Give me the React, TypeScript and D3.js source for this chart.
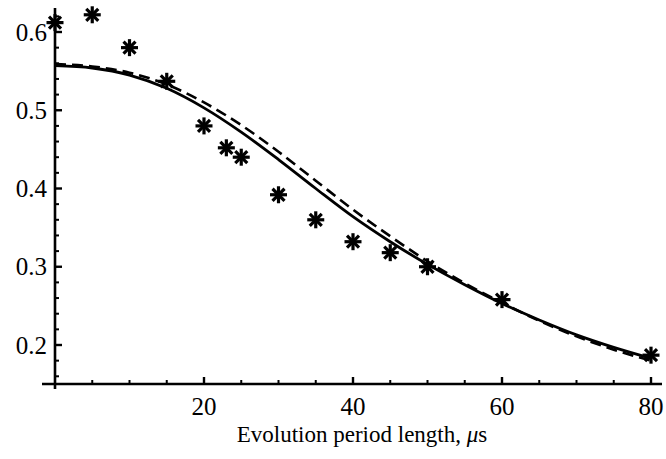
import React from 'react';
import * as d3 from 'd3';

// measured points
const measT = [0, 5, 10, 15, 20, 23, 25, 30, 35, 40, 45, 50, 60, 80];
const measV = [0.612, 0.622, 0.58, 0.537, 0.48, 0.452, 0.44, 0.392, 0.36, 0.332, 0.318, 0.3, 0.258, 0.187];

// model curves
const fitT = [0, 5, 10, 15, 20, 25, 30, 35, 40, 45, 50, 55, 60, 65, 70, 75, 80];
const solidV = [0.557, 0.554, 0.545, 0.528, 0.503, 0.472, 0.437, 0.4, 0.364, 0.332, 0.303, 0.277, 0.253, 0.232, 0.213, 0.197, 0.183];
const dashedV = [0.559, 0.556, 0.548, 0.533, 0.51, 0.481, 0.447, 0.41, 0.373, 0.339, 0.307, 0.279, 0.254, 0.231, 0.211, 0.194, 0.18];

const xTicks = [20, 40, 60, 80];
const yTicks = [0.2, 0.3, 0.4, 0.5, 0.6];

const W = 666;
const H = 459;
const FONT = 'Liberation Serif, DejaVu Serif, serif';

export default function App() {
  const x = d3.scaleLinear().domain([0, 80]).range([55, 651]);
  const y = d3.scaleLinear().domain([0.2, 0.6]).range([345, 32]);

  const axisY = 384;
  const axisX = 55;

  const line = d3.line<number>()
    .x((_, i) => x(fitT[i]))
    .y(d => y(d))
    .curve(d3.curveMonotoneX);

  const xMinor = d3.range(5, 81, 5).filter(t => t % 20 !== 0);
  const yMinor = d3.range(0.16, 0.63, 0.02)
    .map(v => Math.round(v * 100) / 100)
    .filter(v => Math.round(v * 100) % 10 !== 0);

  const star = (cx: number, cy: number, k: number) => {
    const r = 8.5;
    return (
      <g key={k} transform={`translate(${cx},${cy})`} stroke="#000" strokeWidth={3.2}>
        {[0, 45, 90, 135].map(a => {
          const rad = (a * Math.PI) / 180;
          return (
            <line key={a} x1={-r * Math.cos(rad)} y1={-r * Math.sin(rad)} x2={r * Math.cos(rad)} y2={r * Math.sin(rad)} />
          );
        })}
      </g>
    );
  };

  return (
    <div style={{ position: 'absolute', left: 0, top: 0, width: W, height: H, background: '#fff' }}>
      <svg width={W} height={H} fontFamily={FONT}>
        {/* axes */}
        <line x1={42} x2={662} y1={axisY} y2={axisY} stroke="#000" strokeWidth={2.6} />
        <line x1={axisX} x2={axisX} y1={8} y2={389} stroke="#000" strokeWidth={2.6} />

        {xTicks.map(t => (
          <g key={t}>
            <line x1={x(t)} x2={x(t)} y1={axisY} y2={axisY - 7} stroke="#000" strokeWidth={2.4} />
            <text x={x(t)} y={415} textAnchor="middle" fontSize={25}>{t}</text>
          </g>
        ))}
        {xMinor.map(t => (
          <line key={t} x1={x(t)} x2={x(t)} y1={axisY} y2={axisY - 4} stroke="#000" strokeWidth={2} />
        ))}

        {yTicks.map(v => (
          <g key={v}>
            <line x1={axisX} x2={axisX + 7} y1={y(v)} y2={y(v)} stroke="#000" strokeWidth={2.4} />
            <text x={47} y={y(v) + 8.5} textAnchor="end" fontSize={25}>{v.toFixed(1)}</text>
          </g>
        ))}
        {yMinor.map(v => (
          <line key={v} x1={axisX} x2={axisX + 4} y1={y(v)} y2={y(v)} stroke="#000" strokeWidth={2} />
        ))}

        <text x={362} y={442} textAnchor="middle" fontSize={23}>
          Evolution period length, <tspan fontStyle="italic">μ</tspan>s
        </text>

        {/* curves */}
        <path d={line(dashedV) || ''} fill="none" stroke="#000" strokeWidth={2.6} strokeDasharray="11,6" />
        <path d={line(solidV) || ''} fill="none" stroke="#000" strokeWidth={2.8} />

        {/* data */}
        {measT.map((t, i) => star(x(t), y(measV[i]), i))}
      </svg>
    </div>
  );
}
